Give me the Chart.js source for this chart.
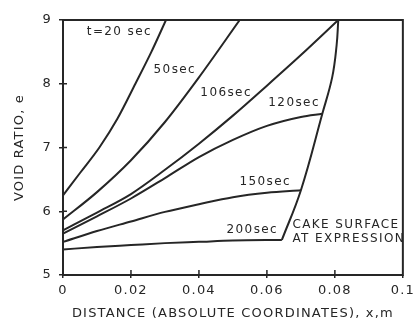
<!DOCTYPE html>
<html>
<head>
<meta charset="utf-8">
<script src="https://cdn.jsdelivr.net/npm/chart.js@4.4.1/dist/chart.umd.min.js"></script>
<style>
  html, body { margin: 0; padding: 0; background: #fff; }
  #wrap { width: 420px; height: 336px; }
</style>
</head>
<body>
<div id="wrap"><canvas id="voidChart"></canvas></div>
<script>
// axis ticks
const xTicks = [0, 0.02, 0.04, 0.06, 0.08, 0.1];
const yTicks = [5, 6, 7, 8, 9];

// void ratio profiles, distance x (m) vs e
const x20 = [0, 0.005, 0.0107, 0.016, 0.0213, 0.026, 0.0303];
const e20 = [6.25, 6.6, 7.0, 7.45, 8.0, 8.5, 9.0];

const x50 = [0, 0.01, 0.02, 0.03, 0.04, 0.052];
const e50 = [5.87, 6.3, 6.8, 7.4, 8.1, 9.0];

const x106 = [0, 0.01, 0.02, 0.03, 0.04, 0.05, 0.06, 0.07, 0.081];
const e106 = [5.7, 5.98, 6.27, 6.65, 7.06, 7.5, 7.97, 8.45, 9.0];

const x120 = [0, 0.01, 0.02, 0.03, 0.04, 0.05, 0.06, 0.07, 0.0763];
const e120 = [5.65, 5.92, 6.2, 6.52, 6.85, 7.12, 7.34, 7.48, 7.53];

const x150 = [0, 0.01, 0.02, 0.03, 0.04, 0.05, 0.06, 0.07];
const e150 = [5.52, 5.69, 5.84, 5.99, 6.11, 6.22, 6.29, 6.33];

const x200 = [0, 0.01, 0.02, 0.03, 0.04, 0.05, 0.0644];
const e200 = [5.4, 5.44, 5.47, 5.5, 5.52, 5.54, 5.55];

// position of the cake surface during expression
const xCake = [0.0644, 0.07, 0.0763, 0.0792, 0.0805, 0.081];
const eCake = [5.55, 6.33, 7.53, 8.1, 8.6, 9.0];

const seriesNames = ["t=20 sec", "50sec", "106sec", "120sec", "150sec", "200sec", "CAKE SURFACE"];
const seriesX = [x20, x50, x106, x120, x150, x200, xCake];
const seriesE = [e20, e50, e106, e120, e150, e200, eCake];

// curve labels, placed in data units
const labels = [
  { text: "t=20 sec", x: 0.0166, y: 8.81, align: "center" },
  { text: "50sec", x: 0.0329, y: 8.21, align: "center" },
  { text: "106sec", x: 0.048, y: 7.85, align: "center" },
  { text: "120sec", x: 0.068, y: 7.70, align: "center" },
  { text: "150sec", x: 0.0595, y: 6.46, align: "center" },
  { text: "200sec", x: 0.0557, y: 5.71, align: "center" },
  { text: "CAKE SURFACE", x: 0.0675, y: 5.785, align: "left" },
  { text: "AT EXPRESSION", x: 0.0675, y: 5.56, align: "left" },
];

const INK = "#262626";

// canvas resets drop letterSpacing, so set it again before layout and drawing
const spacing = (chart) => {
  chart.ctx.letterSpacing = "1.2px";
};

const framePlugin = {
  id: "frame",
  beforeUpdate: spacing,
  beforeLayout: spacing,
  beforeDraw: spacing,
  afterDraw(chart) {
    const { ctx, chartArea: a, scales } = chart;
    ctx.save();
    ctx.strokeStyle = INK;
    ctx.lineWidth = 2;
    ctx.strokeRect(a.left, a.top, a.right - a.left, a.bottom - a.top);

    // inner halves of the tick marks
    ctx.lineWidth = 1.5;
    ctx.beginPath();
    xTicks.slice(1, -1).forEach((v) => {
      const px = scales.x.getPixelForValue(v);
      ctx.moveTo(px, a.bottom);
      ctx.lineTo(px, a.bottom - 5);
    });
    yTicks.slice(1, -1).forEach((v) => {
      const py = scales.y.getPixelForValue(v);
      ctx.moveTo(a.left, py);
      ctx.lineTo(a.left + 4, py);
    });
    ctx.stroke();

    ctx.fillStyle = INK;
    ctx.font = "12px 'DejaVu Sans'";
    ctx.letterSpacing = "1.4px";
    ctx.textBaseline = "middle";
    labels.forEach((l) => {
      ctx.textAlign = l.align;
      ctx.fillText(l.text, scales.x.getPixelForValue(l.x), scales.y.getPixelForValue(l.y));
    });
    ctx.restore();
  },
};

new Chart(document.getElementById("voidChart"), {
  type: "scatter",
  data: {
    datasets: seriesNames.map((name, i) => ({
      label: name,
      data: seriesX[i].map((x, j) => ({ x: x, y: seriesE[i][j] })),
      showLine: true,
      borderColor: INK,
      borderWidth: 2,
      pointRadius: 0,
      cubicInterpolationMode: name === "CAKE SURFACE" ? "default" : "monotone",
      tension: 0.4,
      fill: false,
    })),
  },
  options: {
    responsive: true,
    maintainAspectRatio: false,
    animation: false,
    layout: { padding: { top: 20, right: 16, left: 0, bottom: 0 } },
    plugins: {
      legend: { display: false },
      tooltip: { enabled: false },
    },
    scales: {
      x: {
        type: "linear",
        min: 0,
        max: 0.1,
        afterBuildTicks: (scale) => {
          scale.ticks = xTicks.map((v) => ({ value: v }));
        },
        afterFit: (scale) => {
          scale.height = 61;
        },
        ticks: {
          color: INK,
          font: { family: "DejaVu Sans", size: 13 },
          padding: 5,
          maxRotation: 0,
          callback: (v) => String(v),
        },
        grid: { drawOnChartArea: false, color: INK, lineWidth: 1.5, tickLength: 3 },
        border: { display: false },
        title: {
          display: true,
          text: "DISTANCE (ABSOLUTE COORDINATES), x,m",
          color: INK,
          font: { family: "DejaVu Sans", size: 13 },
          padding: { top: 0, bottom: 15 },
        },
      },
      y: {
        type: "linear",
        min: 5,
        max: 9,
        afterBuildTicks: (scale) => {
          scale.ticks = yTicks.map((v) => ({ value: v }));
        },
        afterFit: (scale) => {
          scale.width = 63;
        },
        ticks: {
          color: INK,
          font: { family: "DejaVu Sans", size: 13 },
          padding: 7,
          callback: (v) => String(v),
        },
        grid: { drawOnChartArea: false, color: INK, lineWidth: 1.5, tickLength: 4 },
        border: { display: false },
        title: {
          display: true,
          text: "VOID RATIO, e",
          color: INK,
          font: { family: "DejaVu Sans", size: 13 },
          padding: { top: 12, bottom: 0 },
        },
      },
    },
  },
  plugins: [framePlugin],
});
</script>
</body>
</html>
